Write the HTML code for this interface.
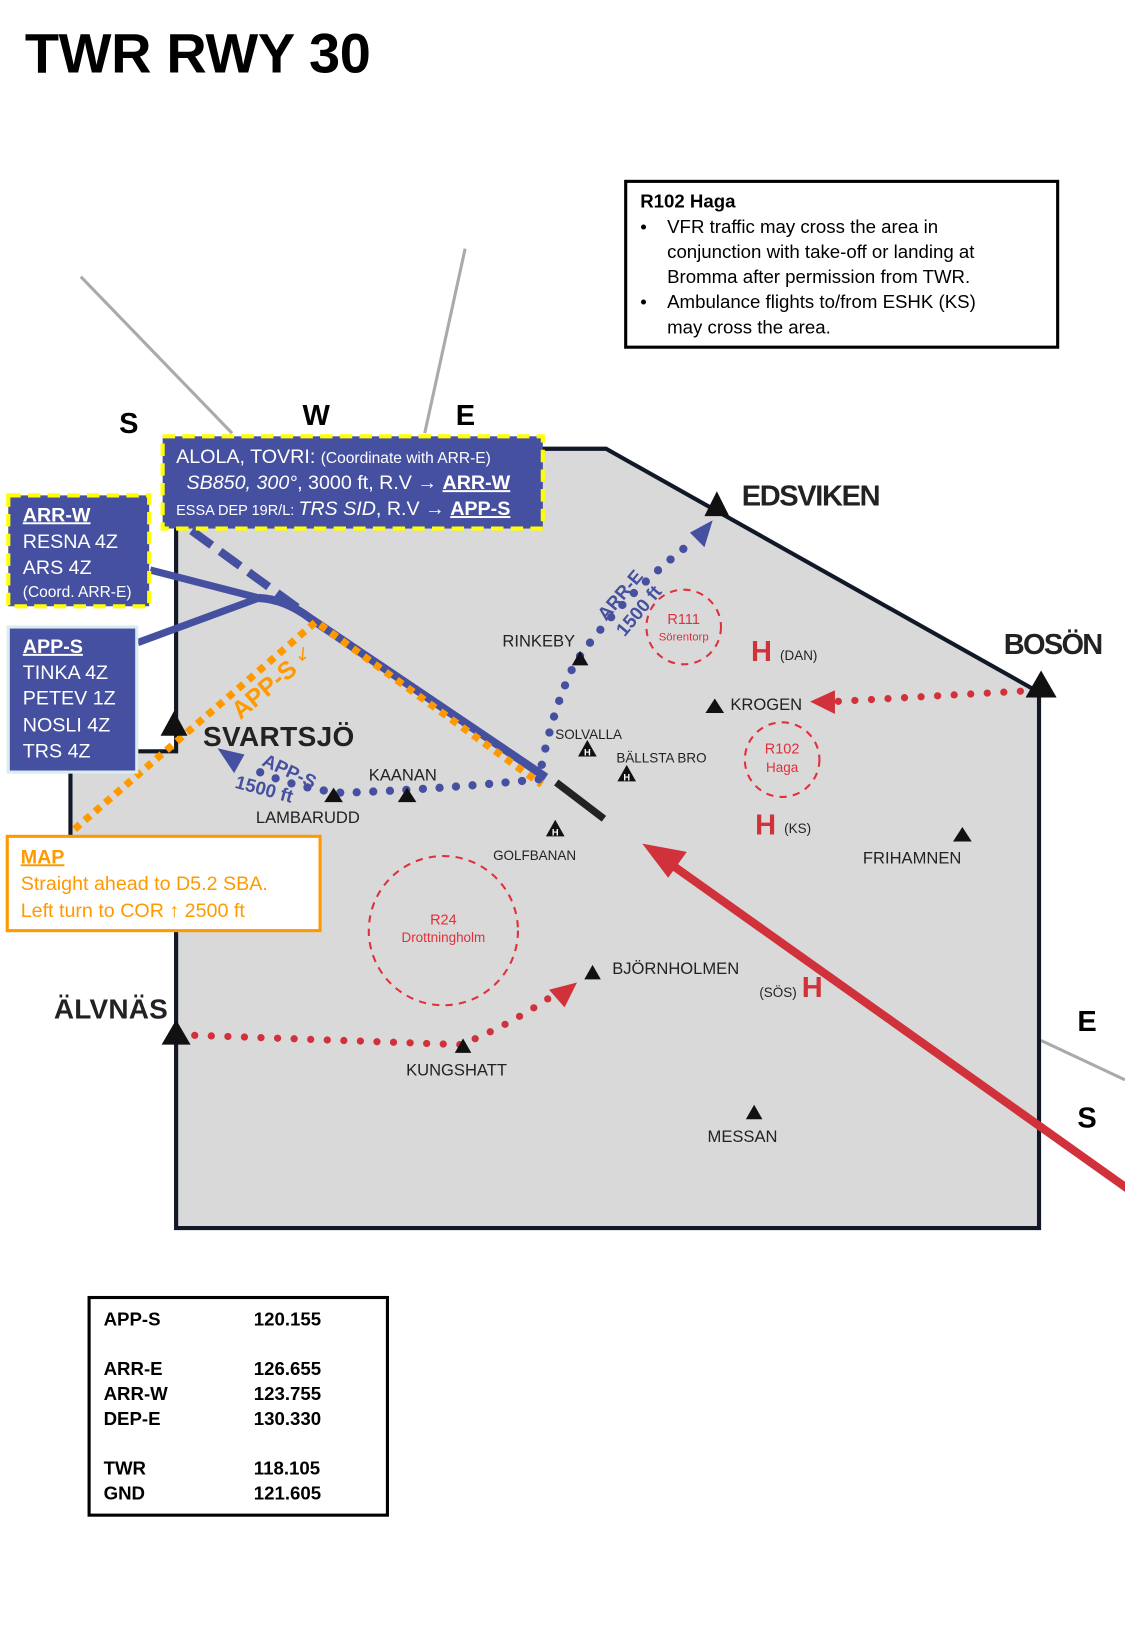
<!DOCTYPE html>
<html><head><meta charset="utf-8"><style>
html,body{margin:0;padding:0;background:#fff}
svg{display:block}
text{font-family:"Liberation Sans",sans-serif}
</style></head><body>
<svg width="1125" height="1625" viewBox="0 0 1086 1568" preserveAspectRatio="none" xmlns="http://www.w3.org/2000/svg">
<text x="24" y="70" font-size="54" font-weight="bold" fill="#000" textLength="334">TWR RWY 30</text>

<line x1="78" y1="267" x2="224" y2="418" stroke="#aaa" stroke-width="3"/>
<line x1="449" y1="240" x2="410" y2="418" stroke="#aaa" stroke-width="3"/>
<line x1="1005" y1="1004" x2="1086" y2="1042" stroke="#aaa" stroke-width="3"/>

<polygon points="170,433 585,433 1003,668 1003,1185 170,1185 170,880 68,880 68,725 170,725" fill="#d9d9d9" stroke="#111827" stroke-width="4"/>

<text x="115" y="418" font-size="28" font-weight="bold">S</text>
<text x="292" y="410" font-size="28" font-weight="bold">W</text>
<text x="440" y="410" font-size="28" font-weight="bold">E</text>
<text x="1040" y="995" font-size="28" font-weight="bold">E</text>
<text x="1040" y="1088" font-size="28" font-weight="bold">S</text>

<circle cx="660" cy="605" r="36" fill="none" stroke="#e0303a" stroke-width="2" stroke-dasharray="7,6"/>
<text x="660" y="602" font-size="14" fill="#e0303a" text-anchor="middle">R111</text>
<text x="660" y="618" font-size="11" fill="#e0303a" text-anchor="middle">Sörentorp</text>
<circle cx="755" cy="733" r="36" fill="none" stroke="#e0303a" stroke-width="2" stroke-dasharray="7,6"/>
<text x="755" y="727" font-size="14" fill="#e0303a" text-anchor="middle">R102</text>
<text x="755" y="745" font-size="13" fill="#e0303a" text-anchor="middle">Haga</text>
<circle cx="428" cy="898" r="72" fill="none" stroke="#e0303a" stroke-width="2" stroke-dasharray="7,6"/>
<text x="428" y="892" font-size="14" fill="#e0303a" text-anchor="middle">R24</text>
<text x="428" y="909" font-size="13" fill="#e0303a" text-anchor="middle">Drottningholm</text>

<path d="M145,550 L250,577" stroke="#4650a0" stroke-width="7" fill="none"/>
<path d="M133,620 L250,577" stroke="#4650a0" stroke-width="7" fill="none"/>
<path d="M250,577 Q275,578 300,597 L527,750" stroke="#4650a0" stroke-width="8" fill="none"/>
<path d="M185,512 L292,590" stroke="#4650a0" stroke-width="8" fill="none" stroke-dasharray="24,10"/>
<line x1="537" y1="755" x2="583" y2="790" stroke="#222" stroke-width="7"/>

<path d="M72,800 L305,600 L523,757" stroke="#ff9900" stroke-width="7" fill="none" stroke-dasharray="7,6"/>
<text x="0" y="0" font-size="24" font-weight="bold" fill="#ff9900" transform="translate(232,695) rotate(-40)">APP-S</text>
<text x="0" y="0" font-size="18" fill="#ff9900" transform="translate(290,640) rotate(-40)">↙</text>

<path d="M523,738 Q535,680 555,640 Q600,575 672,520" stroke="#4650a0" stroke-width="8" fill="none" stroke-dasharray="0,16" stroke-linecap="round"/>
<polygon points="688,502 666,514 680,528" fill="#4650a0"/>
<text x="0" y="0" font-size="18" font-weight="bold" fill="#4650a0" transform="translate(585,600) rotate(-50)">ARR-E</text>
<text x="0" y="0" font-size="18" font-weight="bold" fill="#4650a0" transform="translate(603,615) rotate(-50)">1500 ft</text>

<path d="M520,752 Q420,762 330,765 Q280,760 240,740" stroke="#4650a0" stroke-width="8" fill="none" stroke-dasharray="0,16" stroke-linecap="round"/>
<polygon points="210,722 236,728 226,746" fill="#4650a0"/>
<text x="0" y="0" font-size="18" font-weight="bold" fill="#4650a0" transform="translate(252,738) rotate(25)">APP-S</text>
<text x="0" y="0" font-size="18" font-weight="bold" fill="#4650a0" transform="translate(226,760) rotate(15)">1500 ft</text>

<path d="M985,667 L805,677" stroke="#d0313a" stroke-width="7" fill="none" stroke-dasharray="0,16" stroke-linecap="round"/>
<polygon points="782,677 806,666 806,689" fill="#d0313a"/>
<path d="M188,999 L445,1008 Q490,990 530,963" stroke="#d0313a" stroke-width="7" fill="none" stroke-dasharray="0,16" stroke-linecap="round"/>
<polygon points="557,948 530,955 545,972" fill="#d0313a"/>
<line x1="1090" y1="1148" x2="645" y2="832" stroke="#d0313a" stroke-width="8"/>
<polygon points="620,814 663,822 645,847" fill="#d0313a"/>

<g fill="#111">
<polygon points="692,474 680,498 704,498"/><polygon points="1005,647 990,673 1020,673"/>
<polygon points="168,686 155,710 181,710"/><polygon points="170,984 156,1008 184,1008"/>
<polygon points="560,628 552,642 568,642"/><polygon points="690,674 681,688 699,688"/>
<polygon points="322,760 313,774 331,774"/><polygon points="393,760 384,774 402,774"/>
<polygon points="929,798 920,812 938,812"/><polygon points="572,931 564,945 580,945"/>
<polygon points="447,1002 439,1016 455,1016"/><polygon points="728,1066 720,1080 736,1080"/>
<polygon points="567,714 558,730 576,730"/><polygon points="605,738 596,754 614,754"/><polygon points="536,791 527,807 545,807"/>
</g>
<g font-size="9" font-weight="bold" fill="#fff" text-anchor="middle">
<text x="567" y="729">H</text><text x="605" y="753">H</text><text x="536" y="806">H</text>
</g>
<g font-size="16" fill="#222">
<text x="716" y="488" font-size="28" font-weight="bold" textLength="134">EDSVIKEN</text>
<text x="969" y="631" font-size="28" font-weight="bold" textLength="96">BOSÖN</text>
<text x="196" y="720" font-size="27" font-weight="bold" textLength="146">SVARTSJÖ</text>
<text x="52" y="983" font-size="27" font-weight="bold" textLength="110">ÄLVNÄS</text>
<text x="485" y="624">RINKEBY</text>
<text x="705" y="685">KROGEN</text>
<text x="536" y="713" font-size="13">SOLVALLA</text>
<text x="595" y="736" font-size="13">BÄLLSTA BRO</text>
<text x="356" y="753">KAANAN</text>
<text x="247" y="794">LAMBARUDD</text>
<text x="476" y="830" font-size="13">GOLFBANAN</text>
<text x="833" y="833">FRIHAMNEN</text>
<text x="591" y="940">BJÖRNHOLMEN</text>
<text x="392" y="1038">KUNGSHATT</text>
<text x="683" y="1102">MESSAN</text>
<text x="733" y="962" font-size="13">(SÖS)</text>
<text x="753" y="637" font-size="13">(DAN)</text>
<text x="757" y="804" font-size="13">(KS)</text>
</g>
<g font-size="28" font-weight="bold" fill="#d0313a">
<text x="725" y="638">H</text><text x="729" y="805">H</text><text x="774" y="962">H</text>
</g>

<g>
<rect x="157" y="421" width="367" height="89" fill="#4650a0" stroke="#ffff00" stroke-width="4" stroke-dasharray="12,7"/>
<text x="170" y="447" font-size="19" fill="#fff">ALOLA, TOVRI: <tspan font-size="15">(Coordinate with ARR-E)</tspan></text>
<text x="180" y="472" font-size="19" fill="#fff"><tspan font-style="italic">SB850, 300°</tspan>, 3000 ft, R.V → <tspan font-weight="bold" text-decoration="underline">ARR-W</tspan></text>
<text x="170" y="497" font-size="14" fill="#fff">ESSA DEP 19R/L: <tspan font-size="19" font-style="italic">TRS SID</tspan><tspan font-size="19">, R.V → </tspan><tspan font-size="19" font-weight="bold" text-decoration="underline">APP-S</tspan></text>
</g>
<g>
<rect x="8" y="478" width="136" height="107" fill="#4650a0" stroke="#ffff00" stroke-width="4" stroke-dasharray="12,7"/>
<text x="22" y="503" font-size="19" fill="#fff" font-weight="bold" text-decoration="underline">ARR-W</text>
<text x="22" y="529" font-size="19" fill="#fff">RESNA 4Z</text>
<text x="22" y="554" font-size="19" fill="#fff">ARS 4Z</text>
<text x="22" y="576" font-size="15" fill="#fff">(Coord. ARR-E)</text>
</g>
<g>
<rect x="8" y="605" width="124" height="140" fill="#4650a0" stroke="#d9ecef" stroke-width="3"/>
<text x="22" y="630" font-size="19" fill="#fff" font-weight="bold" text-decoration="underline">APP-S</text>
<text x="22" y="655" font-size="19" fill="#fff">TINKA 4Z</text>
<text x="22" y="680" font-size="19" fill="#fff">PETEV 1Z</text>
<text x="22" y="706" font-size="19" fill="#fff">NOSLI 4Z</text>
<text x="22" y="731" font-size="19" fill="#fff">TRS 4Z</text>
</g>
<g>
<rect x="7" y="807" width="302" height="91" fill="#fff" stroke="#ff9900" stroke-width="3"/>
<text x="20" y="833" font-size="19" fill="#ff9900" font-weight="bold" text-decoration="underline">MAP</text>
<text x="20" y="859" font-size="19" fill="#ff9900">Straight ahead to D5.2 SBA.</text>
<text x="20" y="885" font-size="19" fill="#ff9900">Left turn to COR  ↑ 2500 ft</text>
</g>
<g>
<rect x="604" y="175" width="417" height="160" fill="#fff" stroke="#000" stroke-width="3"/>
<text x="618" y="200" font-size="18" font-weight="bold">R102 Haga</text>
<g font-size="18">
<text x="618" y="225">•</text><text x="644" y="225">VFR traffic may cross the area in</text>
<text x="644" y="249">conjunction with take-off or landing at</text>
<text x="644" y="273">Bromma after permission from TWR.</text>
<text x="618" y="297">•</text><text x="644" y="297">Ambulance flights to/from ESHK (KS)</text>
<text x="644" y="322">may cross the area.</text>
</g></g>
<g font-size="18" font-weight="bold">
<rect x="86" y="1252" width="288" height="210" fill="#fff" stroke="#000" stroke-width="3"/>
<text x="100" y="1279">APP-S</text><text x="245" y="1279">120.155</text>
<text x="100" y="1327">ARR-E</text><text x="245" y="1327">126.655</text>
<text x="100" y="1351">ARR-W</text><text x="245" y="1351">123.755</text>
<text x="100" y="1375">DEP-E</text><text x="245" y="1375">130.330</text>
<text x="100" y="1423">TWR</text><text x="245" y="1423">118.105</text>
<text x="100" y="1447">GND</text><text x="245" y="1447">121.605</text>
</g>
</svg>
</body></html>
